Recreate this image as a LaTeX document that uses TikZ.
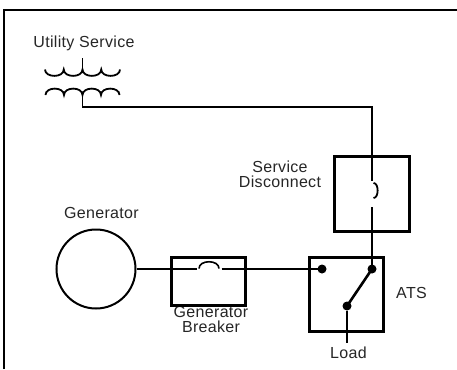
\documentclass[tikz,border=0pt]{standalone}
\usepackage{fontspec}
\setmainfont{Liberation Sans}[LetterSpace=2]
\begin{document}
\begin{tikzpicture}[x=1pt,y=-1pt,
  thin line/.style={line width=1.3pt},
  thick box/.style={draw,line width=3pt,minimum width=#1,minimum height=#1,inner sep=0pt,outer sep=0pt},
  dot/.style={circle,fill,inner sep=0pt,minimum size=9pt,outer sep=0pt},
  lbl/.style={font=\fontsize{16}{15}\selectfont,text=black!85,inner sep=0pt,anchor=base,align=center},
  coil/.style={line width=1.8pt}]
\useasboundingbox (0,0) rectangle (457,369);
% frame
\draw[line width=1.5pt] (4,369) -- (4,10) -- (457,10);
% labels
\node[lbl] (lus) at (84,48) {Utility Service};
\node[lbl] (lgen) at (101.5,218) {Generator};
\node[lbl] (lsd) at (280,187) {Service\\Disconnect};
\node[lbl] (lgb) at (211,332) {Generator\\Breaker};
\node[lbl] (lats) at (411.5,298) {ATS};
\node[lbl] (lload) at (348.5,358) {Load};
% transformer
\coordinate (tt) at (82.5,58);
\coordinate (tu) at (82.5,69.5);
\coordinate (tl) at (82.5,95);
\coordinate (tb) at (82.5,107);
\draw[coil] (45,69.5)
  .. controls (45,78) and (63.75,78) .. (63.75,69.5)
  .. controls (63.75,78) and (82.5,78) .. (82.5,69.5)
  .. controls (82.5,78) and (101.25,78) .. (101.25,69.5)
  .. controls (101.25,78) and (120,78) .. (120,69.5);
\draw[coil] (45.5,95)
  .. controls (45.5,86.5) and (64,86.5) .. (64,95)
  .. controls (64,86.5) and (82.5,86.5) .. (82.5,95)
  .. controls (82.5,86.5) and (101,86.5) .. (101,95)
  .. controls (101,86.5) and (119.5,86.5) .. (119.5,95);
\draw[thin line] (tt) -- (tu);
% generator
\node[draw,circle,line width=2pt,minimum size=79pt,inner sep=0pt] (gen) at (96,269) {};
% boxes
\node[thick box=74pt,minimum height=48pt] (brk) at (208.5,281.5) {};
\node[thick box=75pt] (sd) at (372,194) {};
\node[thick box=74pt] (ats) at (346.5,294.5) {};
% dots
\node[dot] (dL) at (322,269) {};
\node[dot] (dR) at (372,269) {};
\node[dot] (dB) at (347,306) {};
% utility line
\coordinate (sdA) at (372,181);
\coordinate (sdB) at (372,207);
\draw[thin line] (tl) -- (tb) -| (sd.north) -- (sdA);
\draw[line width=1.8pt] (373.5,183) .. controls (379,183) and (379,198) .. (373.5,198);
\draw[thin line] (sdB) -- (dR);
% generator line
\coordinate (bA) at (197,269);
\coordinate (bB) at (221.5,269);
\draw[thin line] (gen.east) -- (gen.east -| brk.west) -- (bA);
\draw[line width=1.6pt] (199,268.5) .. controls (199,259.5) and (219,259.5) .. (219,268.5);
\draw[thin line] (bB) -- (dL);
% switch
\draw[line width=2.6pt] (dB.center) -- (dR.center);
\coordinate (ld) at (347,343);
\draw[line width=2pt] (dB) -- (ld);
\end{tikzpicture}
\end{document}
